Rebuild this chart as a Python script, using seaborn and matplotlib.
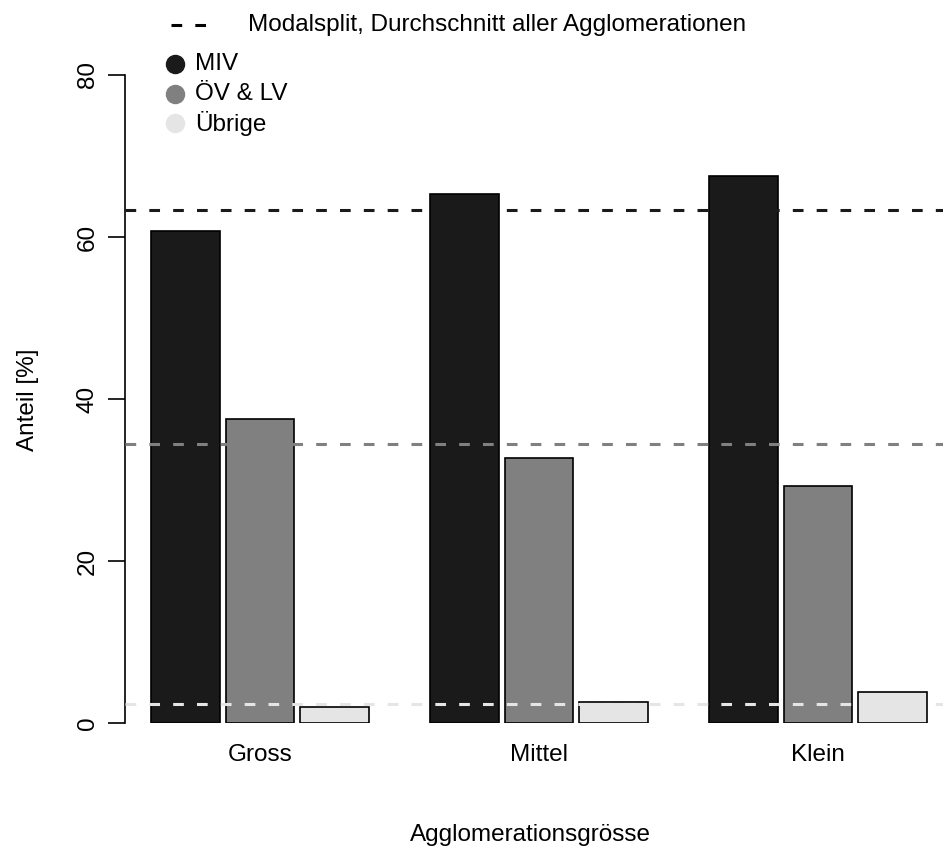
import matplotlib
matplotlib.use("Agg")
import matplotlib.pyplot as plt
from matplotlib.lines import Line2D
import seaborn as sns
import pandas as pd

# Daten
groessen = ["Gross", "Mittel", "Klein"]
modi = ["MIV", "ÖV & LV", "Übrige"]
miv = [60.7, 65.3, 67.5]
oev_lv = [37.5, 32.7, 29.3]
uebrige = [2.0, 2.6, 3.8]
durchschnitt = [63.3, 34.5, 2.3]
farben = ["#1a1a1a", "#808080", "#e5e5e5"]

df = pd.DataFrame({
    "Agglomerationsgrösse": groessen * 3,
    "Modus": [m for m in modi for _ in groessen],
    "Anteil": miv + oev_lv + uebrige,
})

sns.set_style("white")
plt.rcParams["font.family"] = ["Liberation Sans", "DejaVu Sans"]
plt.rcParams["text.color"] = "black"
plt.rcParams["xtick.color"] = "black"
plt.rcParams["ytick.color"] = "black"
fs = 17.5

fig = plt.figure(figsize=(9.43, 8.51), dpi=100)
ax = fig.add_axes([125 / 943, 128 / 851, 818 / 943, 648 / 851])

sns.barplot(data=df, x="Agglomerationsgrösse", y="Anteil", hue="Modus",
            palette=farben, width=0.8, gap=0.08, edgecolor="black",
            linewidth=1.2, legend=False, ax=ax)

for wert, farbe in zip(durchschnitt, farben):
    ax.axhline(wert, color=farbe, lw=2.2, dashes=(3.5, 4.3), zorder=5)

ax.set_xlim(-0.484, 2.448)
ax.set_ylim(0, 80)
ax.set_yticks([0, 20, 40, 60, 80])
for s in ["top", "right", "bottom"]:
    ax.spines[s].set_visible(False)
ax.spines["left"].set_bounds(0, 80)
ax.spines["left"].set_color("black")
ax.spines["left"].set_linewidth(1.2)
ax.tick_params(axis="x", length=0, pad=15, labelsize=fs)
ax.tick_params(axis="y", left=True, length=12, width=1.2, pad=7, labelsize=fs)
for t in ax.get_yticklabels():
    t.set_rotation(90)
    t.set_va("center")
ax.set_xlabel("")
ax.set_ylabel("")

fig.text(530 / 943, 1 - 835 / 851, "Agglomerationsgrösse", ha="center", va="center", fontsize=fs)
fig.text(28 / 943, 1 - 400 / 851, "Anteil [%]", ha="center", va="center", rotation=90, fontsize=fs)

# Legende
fig.add_artist(Line2D([171 / 943, 211 / 943], [1 - 25 / 851] * 2, color="black",
                      lw=2.2, dashes=(3.5, 4.3), transform=fig.transFigure))
fig.text(248 / 943, 1 - 25 / 851, "Modalsplit, Durchschnitt aller Agglomerationen",
         va="center", fontsize=fs)
for i, (m, farbe) in enumerate(zip(modi, farben)):
    y = 1 - (64 + 29.5 * i) / 851
    fig.add_artist(Line2D([175 / 943], [y], marker="o", markersize=13, color=farbe,
                          lw=0, transform=fig.transFigure))
    fig.text(195 / 943, y, m, va="center", fontsize=fs)

fig.savefig("out.png", dpi=100)
